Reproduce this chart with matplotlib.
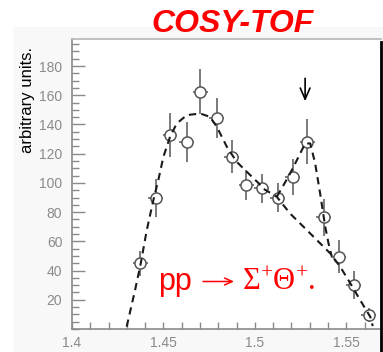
import matplotlib
matplotlib.use("Agg")
import matplotlib.pyplot as plt
from matplotlib.lines import Line2D
from matplotlib.patches import Rectangle
from matplotlib.ticker import MultipleLocator, FixedLocator

plt.rcParams['mathtext.fontset'] = 'custom'
plt.rcParams['mathtext.rm'] = 'Liberation Serif'
plt.rcParams['mathtext.it'] = 'Liberation Serif:italic'
plt.rcParams['mathtext.bf'] = 'Liberation Serif:bold'

# data points (mass, counts)
mass = [1.4372, 1.4458, 1.4536, 1.4628, 1.4701, 1.4792, 1.4874, 1.4952,
        1.5038, 1.5124, 1.5208, 1.5288, 1.5376, 1.5458, 1.5540, 1.5622]
counts = [44.9, 89.4, 132.7, 128.1, 162.3, 144.1, 117.9, 98.5,
          96.2, 90.0, 104.2, 128.1, 76.4, 49.5, 30.1, 9.6]
count_err = [8.5, 13.0, 15.0, 13.7, 15.4, 13.7, 11.4, 10.5,
             10.0, 9.7, 12.5, 15.5, 12.5, 11.4, 9.7, 5.0]
mass_err = [0.0041] * 16

# background curve
bg_x = [1.4299, 1.4345, 1.4376, 1.4409, 1.4445, 1.4472, 1.4500, 1.4536,
        1.4573, 1.4628, 1.4701, 1.4755, 1.4792, 1.4847, 1.4901, 1.4956,
        1.5019, 1.5047, 1.5120, 1.5193, 1.5266, 1.5339, 1.5412, 1.5467,
        1.5522, 1.5576, 1.5631, 1.5645]
bg_y = [1.6, 26.7, 44.9, 67.7, 88.2, 101.9, 117.9, 131.5,
        140.7, 146.4, 147.5, 145.2, 138.4, 124.7, 114.4, 107.6,
        100.0, 96.0, 90.5, 79.0, 70.0, 60.9, 51.8, 42.6,
        31.3, 19.8, 8.4, 2.0]

# peak curve
pk_x = [1.5120, 1.5157, 1.5193, 1.5230, 1.5275, 1.5303, 1.5330, 1.5357,
        1.5385, 1.5403, 1.5421]
pk_y = [90.5, 98.5, 106.5, 115.6, 127.0, 127.0, 113.3, 92.8,
        70.0, 58.6, 49.5]

arrow_x = 1.5275
arrow_y = [173.5, 154.0]

x_ticks = [1.4, 1.45, 1.5, 1.55]
x_labels = ["1.4", "1.45", "1.5", "1.55"]
y_ticks = [20, 40, 60, 80, 100, 120, 140, 160, 180]

W, H = 383, 352
fig = plt.figure(figsize=(W / 100, H / 100), dpi=100)
fig.patch.set_facecolor('white')
fig.patches.append(Rectangle((13 / W, 0), 1, (H - 27) / H, transform=fig.transFigure,
                             facecolor='#f8f8f8', edgecolor='none', zorder=-10))

ax = fig.add_axes([72 / W, (H - 329) / H, (381 - 72) / W, (329 - 39) / H])
ax.set_facecolor('white')
ax.set_xlim(1.4, 1.569)
ax.set_ylim(0, 198.5)

gray = '#8a8a8a'
ax.errorbar(mass, counts, yerr=count_err, xerr=mass_err, fmt='o', ms=8,
            mfc='white', mec='#555555', mew=1.1, ecolor='#707070',
            elinewidth=1.3, capsize=0, zorder=3)

ax.plot(bg_x, bg_y, color='#1a1a1a', lw=1.5, dashes=(3.5, 2.5), zorder=4)
ax.plot(pk_x, pk_y, color='#1a1a1a', lw=1.5, dashes=(3.5, 2.5), zorder=4)

ax.annotate('', xy=(arrow_x, arrow_y[1]), xytext=(arrow_x, arrow_y[0]),
            arrowprops=dict(arrowstyle='->,head_length=0.8,head_width=0.35',
                            color='black', lw=1.2))

ax.xaxis.set_major_locator(FixedLocator(x_ticks))
ax.set_xticklabels(x_labels)
ax.xaxis.set_minor_locator(MultipleLocator(0.01))
ax.yaxis.set_major_locator(FixedLocator(y_ticks))
ax.yaxis.set_minor_locator(MultipleLocator(5))

ax.tick_params(axis='both', which='both', direction='in', colors=gray,
               labelcolor=gray, labelsize=10, width=1.0)
ax.tick_params(axis='x', which='major', length=5, pad=5)
ax.tick_params(axis='x', which='minor', length=5)
ax.tick_params(axis='y', which='major', length=9, pad=7)
ax.tick_params(axis='y', which='minor', length=5)
ax.tick_params(top=False, right=False, which='both')
for lab in ax.get_xticklabels() + ax.get_yticklabels():
    lab.set_family('Liberation Sans')

for s in ['left', 'bottom']:
    ax.spines[s].set_color(gray)
    ax.spines[s].set_linewidth(1.2)
ax.spines['top'].set_color('#b5b5b5')
ax.spines['top'].set_linewidth(1.2)
ax.spines['right'].set_visible(False)

fig.add_artist(Line2D([381 / W, 381 / W], [0, (H - 42) / H], transform=fig.transFigure,
                      color='black', lw=2.0))

fig.text(232.5 / W, 1 - 23.5 / H, 'COSY-TOF', color='#ff0000', fontsize=23,
         fontweight='bold', fontstyle='italic', family='Liberation Sans',
         ha='center', va='center')

fig.text(27.5 / W, 1 - 100 / H, 'arbitrary units.', rotation=90, fontsize=12,
         family='Liberation Sans', color='black', ha='center', va='center')

fig.text(158 / W, 1 - 290 / H, 'pp', color='#ff0000', fontsize=22,
         family='Liberation Sans', ha='left', va='baseline')
fig.add_artist(plt.Annotation('', xy=(234 / W, 1 - 281.5 / H), xytext=(203 / W, 1 - 281.5 / H),
                              xycoords='figure fraction', textcoords='figure fraction',
                              arrowprops=dict(arrowstyle='->,head_length=0.55,head_width=0.25',
                                              color='#ff0000', lw=1.1, shrinkA=0, shrinkB=0)))
fig.text(242 / W, 1 - 290 / H, r'$\Sigma^{+}\Theta^{+}.$', color='#ff0000',
         fontsize=22, ha='left', va='baseline')

fig.savefig('out.png', dpi=100)
